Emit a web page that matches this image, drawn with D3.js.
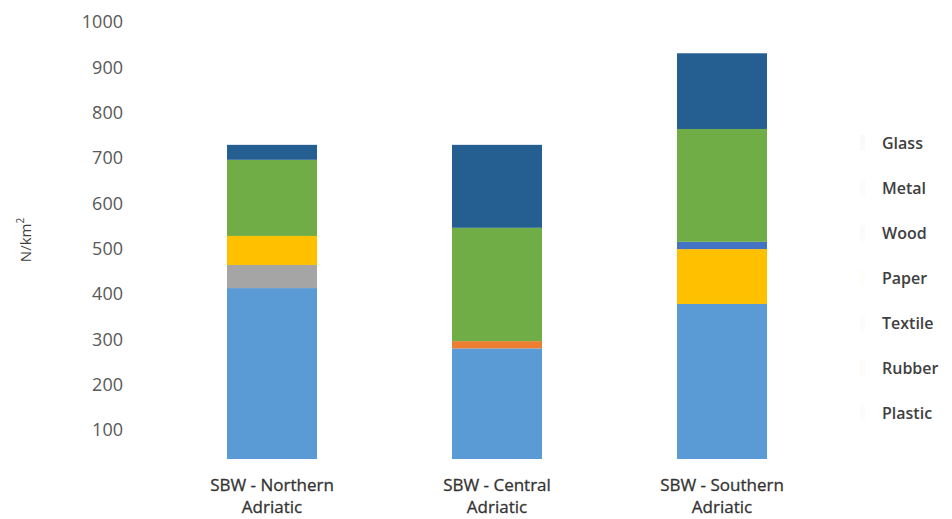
<!DOCTYPE html>
<html>
<head>
<meta charset="utf-8">
<script src="https://cdn.jsdelivr.net/npm/d3@7/dist/d3.min.js"></script>
<style>
  html, body { margin: 0; padding: 0; background: #ffffff; }
  svg { display: block; font-family: "Open Sans", "Noto Sans", sans-serif; }
</style>
</head>
<body>
<svg id="chart" width="952" height="519"></svg>
<script>
// Sea-surface litter density by material, stacked per sub-basin (N/km²)
const categories = [["SBW - Northern", "Adriatic"], ["SBW - Central", "Adriatic"], ["SBW - Southern", "Adriatic"]];
const materials = ["Plastic", "Rubber", "Textile", "Paper", "Wood", "Metal", "Glass"];
const plastic = [413, 280, 378];
const rubber  = [0, 16, 0];
const textile = [51, 0, 0];
const paper   = [64, 0, 121];
const wood    = [0, 0, 16];
const metal   = [168, 250, 249];
const glass   = [33, 183, 167];
const yTicks = [100, 200, 300, 400, 500, 600, 700, 800, 900, 1000];
const colors = ["#5b9bd5", "#ed7d31", "#a5a5a5", "#ffc000", "#4472c4", "#70ad47", "#255e91"];

const seriesValues = [plastic, rubber, textile, paper, wood, metal, glass];
const rows = categories.map((c, i) => {
  const r = { key: c.join(" ") };
  materials.forEach((m, j) => { r[m] = seriesValues[j][i]; });
  return r;
});
const stacked = d3.stack().keys(materials)(rows);

const svg = d3.select("#chart");
const x = d3.scaleBand().domain(rows.map(r => r.key)).range([159.5, 834.5])
  .paddingInner(0.6).paddingOuter(0.3);
const y = d3.scaleLinear().domain([0, 1000]).range([475.3, 22]);
const color = d3.scaleOrdinal().domain(materials).range(colors);

// plot area ends a little above the zero line
const plotBottom = 459;
svg.append("clipPath").attr("id", "plot")
  .append("rect").attr("x", 0).attr("y", 0).attr("width", 952).attr("height", plotBottom);

const plot = svg.append("g").attr("clip-path", "url(#plot)");
plot.selectAll("g.series").data(stacked).join("g")
  .attr("class", "series")
  .attr("fill", d => color(d.key))
  .selectAll("rect").data(d => d).join("rect")
  .attr("x", d => x(d.data.key))
  .attr("width", x.bandwidth())
  .attr("y", d => y(d[1]))
  .attr("height", d => Math.max(0, y(d[0]) - y(d[1])));

// y axis: labels only
const yAxis = svg.append("g").attr("transform", "translate(123,0)")
  .call(d3.axisLeft(y).tickValues(yTicks).tickSize(0).tickPadding(0).tickFormat(d3.format("d")));
yAxis.select(".domain").remove();
yAxis.selectAll("text").attr("font-size", 18).attr("fill", "#595959")
  .attr("font-family", "'Open Sans', sans-serif");

// y axis title
const yt = svg.append("text")
  .attr("transform", "translate(31,240) rotate(-90)")
  .attr("text-anchor", "middle").attr("font-size", 15).attr("fill", "#404040");
yt.append("tspan").text("N/km");
yt.append("tspan").text("2").attr("font-size", 10).attr("dy", -7);

// category labels, two lines each
const xl = svg.append("g");
rows.forEach((r, i) => {
  const cx = x(r.key) + x.bandwidth() / 2;
  const t = xl.append("text")
    .attr("text-anchor", "middle").attr("font-size", 17)
    .attr("fill", "#333333").attr("stroke", "#333333").attr("stroke-width", 0.3);
  t.append("tspan").attr("x", cx).attr("y", 491).text(categories[i][0]);
  t.append("tspan").attr("x", cx).attr("y", 513).text(categories[i][1]);
});

// legend, top entry = last series
const legendItems = materials.slice().reverse();
const legend = svg.append("g").attr("transform", "translate(862,143)");
legendItems.forEach((m, i) => {
  const g = legend.append("g").attr("transform", `translate(0,${i * 45})`);
  g.append("rect").attr("x", -2).attr("y", -8).attr("width", 5).attr("height", 16)
    .attr("fill", color(m)).attr("opacity", 0.03);
  g.append("text").attr("x", 20).attr("dy", "0.35em")
    .attr("font-size", 16).attr("font-weight", 600).attr("fill", "#404040").text(m);
});
</script>
</body>
</html>
